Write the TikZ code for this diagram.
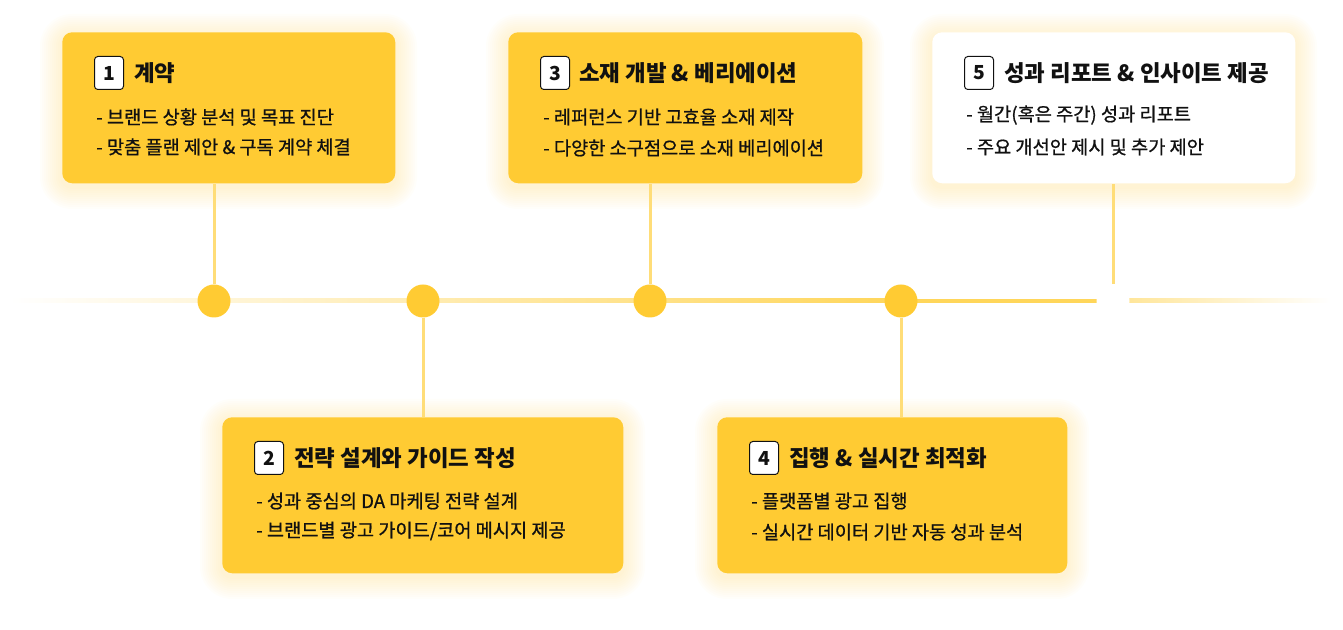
\documentclass[tikz,border=0pt]{standalone}
\usepackage{fontspec}
\setmainfont{Noto Sans CJK KR}
\newfontfamily\linefont{Noto Sans CJK KR}[FakeBold=0.8]
\usetikzlibrary{positioning, calc}

\definecolor{cardyellow}{RGB}{255,203,51}
\definecolor{stemyellow}{RGB}{255,221,120}
\definecolor{lineyellow}{RGB}{255,214,90}
\definecolor{glowyellow}{RGB}{255,214,110}
\definecolor{inkblack}{RGB}{17,17,17}

\tikzset{
  stepcard/.style={fill=cardyellow, rounded corners=7.5pt, anchor=north west, inner sep=0pt},
  whitecard/.style={stepcard, fill=white},
  numbadge/.style={draw=inkblack, fill=white, rounded corners=2.5pt, line width=0.75pt, anchor=north west,
    minimum width=21.75pt, minimum height=24.75pt, inner sep=0pt, text=inkblack,
    font=\bfseries\fontsize{14.5}{16}\selectfont},
  cardtitle/.style={anchor=west, inner sep=0.75pt, text=inkblack, font=\bfseries\fontsize{16.8}{19}\selectfont},
  cardline/.style={anchor=west, inner sep=0.75pt, text=inkblack, font=\linefont\fontsize{14}{16}\selectfont},
  stem/.style={draw=stemyellow, line width=2.25pt},
  dot/.style={circle, fill=cardyellow, minimum size=24.75pt, inner sep=0pt},
}

\begin{document}
\begin{tikzpicture}[x=0.75pt,y=0.75pt,yscale=-1,xscale=1]
\useasboundingbox (0,0) rectangle (1343,630);

% soft glow round the cards
\foreach \x/\y/\w/\h in {62/32/333/151, 508/32/354/151, 932/32/363/151, 222/417/401/156, 717/417/350/156}{
  \foreach \g in {2,4,...,22}{
    \fill[glowyellow, opacity=0.03, rounded corners=7.5pt+0.75*\g pt] (\x-\g,\y-\g+4) rectangle (\x+\w+\g,\y+\h+\g+4);
  }
}

% timeline
\shade[left color=white, right color=lineyellow] (10,299) rectangle (900,303);
\fill[lineyellow] (900,299) rectangle (1100,303);
\shade[left color=lineyellow!70, right color=white] (1100,299) rectangle (1330,303);

% Card 1
\node[stepcard, minimum width=249.75pt, minimum height=113.25pt] (card1) at (62,32) {};
\node[numbadge] (num1) at (94,56) {1};
\node[cardtitle] (title1) at (133,73) {계약};
\node[cardline] (line1a) at (95,117) {- 브랜드 상황 분석 및 목표 진단};
\node[cardline] (line1b) at (95,147) {- 맞춤 플랜 제안 \& 구독 계약 체결};

% Card 2
\node[stepcard, minimum width=300.75pt, minimum height=117pt] (card2) at (222,417) {};
\node[numbadge] (num2) at (254,441) {2};
\node[cardtitle] (title2) at (293,458) {전략 설계와 가이드 작성};
\node[cardline] (line2a) at (255,501) {- 성과 중심의 DA 마케팅 전략 설계};
\node[cardline] (line2b) at (255,531) {- 브랜드별 광고 가이드/코어 메시지 제공};

% Card 3
\node[stepcard, minimum width=265.5pt, minimum height=113.25pt] (card3) at (508,32) {};
\node[numbadge] (num3) at (540,56) {3};
\node[cardtitle] (title3) at (578,73) {소재 개발 \& 베리에이션};
\node[cardline] (line3a) at (542,117) {- 레퍼런스 기반 고효율 소재 제작};
\node[cardline] (line3b) at (542,148) {- 다양한 소구점으로 소재 베리에이션};

% Card 4
\node[stepcard, minimum width=262.5pt, minimum height=117pt] (card4) at (717,417) {};
\node[numbadge] (num4) at (749,441) {4};
\node[cardtitle] (title4) at (788,458) {집행 \& 실시간 최적화};
\node[cardline] (line4a) at (750,501) {- 플랫폼별 광고 집행};
\node[cardline] (line4b) at (750,532) {- 실시간 데이터 기반 자동 성과 분석};

% Card 5
\node[whitecard, minimum width=272.25pt, minimum height=113.25pt] (card5) at (932,32) {};
\node[numbadge] (num5) at (964,56) {5};
\node[cardtitle] (title5) at (1003,73) {성과 리포트 \& 인사이트 제공};
\node[cardline] (line5a) at (965,115) {- 월간(혹은 주간) 성과 리포트};
\node[cardline] (line5b) at (965,147) {- 주요 개선안 제시 및 추가 제안};

% dots on the timeline
\node[dot] (dot1) at (214,301) {};
\node[dot] (dot2) at (423,301) {};
\node[dot] (dot3) at (650,301) {};
\node[dot] (dot4) at (901,301) {};
\node[dot, fill=white] (dot5) at (1113,301) {};

% stems
\draw[stem] (dot1.north) -- (dot1.north |- card1.south);
\draw[stem] (dot2.south) -- (dot2.south |- card2.north);
\draw[stem] (dot3.north) -- (dot3.north |- card3.south);
\draw[stem] (dot4.south) -- (dot4.south |- card4.north);
\draw[stem] (dot5.north) -- (dot5.north |- card5.south);

\end{tikzpicture}
\end{document}
